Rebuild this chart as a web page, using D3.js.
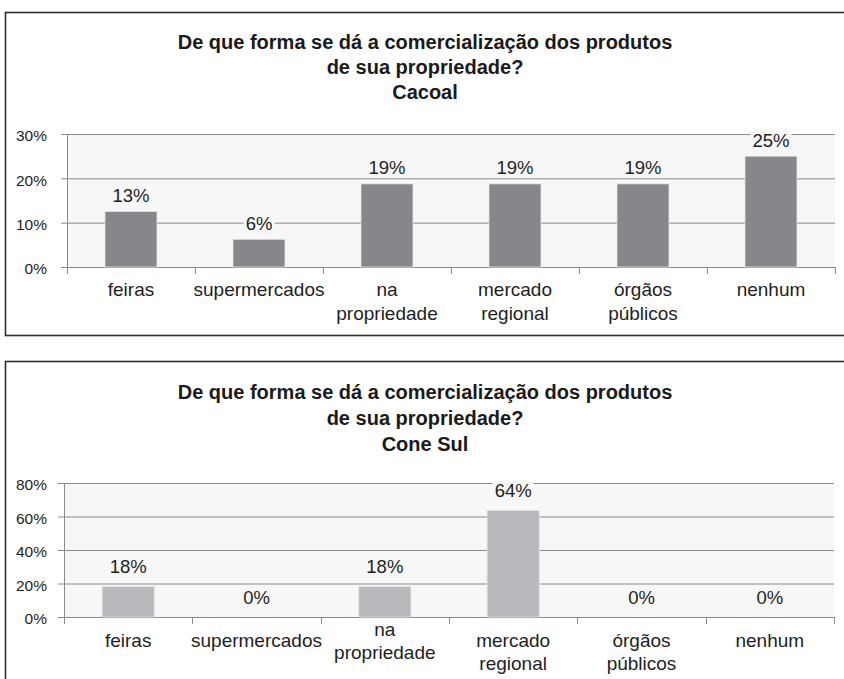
<!DOCTYPE html>
<html>
<head>
<meta charset="utf-8">
<script src="https://d3js.org/d3.v7.min.js"></script>
<style>
  body { margin: 0; background: #fff; }
  svg text { font-family: "Liberation Sans", Arial, sans-serif; fill: #1e1e1e; }
</style>
</head>
<body>
<script>
// categories and values (shares of respondents)
var categoryLines = [["feiras"], ["supermercados"], ["na", "propriedade"], ["mercado", "regional"], ["órgãos", "públicos"], ["nenhum"]];
var categories = categoryLines.map(function (d) { return d.join(" "); });
var titleLines = ["De que forma se dá a comercialização dos produtos", "de sua propriedade?"];

var cacoalValues = [0.125, 0.0625, 0.1875, 0.1875, 0.1875, 0.25];
var cacoalTicks = [0, 0.1, 0.2, 0.3];

var coneSulValues = [0.1818, 0, 0.1818, 0.6364, 0, 0];
var coneSulTicks = [0, 0.2, 0.4, 0.6, 0.8];

var svg = d3.select("body").append("svg")
  .attr("width", 844)
  .attr("height", 679);

var pct = d3.format(".0%");

function draw(cfg) {
  var g = svg.append("g");

  // outer frame
  g.append("rect")
    .attr("x", 5.5).attr("y", cfg.top + 0.5)
    .attr("width", 900).attr("height", cfg.boxH)
    .attr("fill", "none")
    .attr("stroke", "#2e2e2e")
    .attr("stroke-width", 1.6);

  // title
  titleLines.concat([cfg.name]).forEach(function (t, i) {
    g.append("text")
      .attr("x", 425)
      .attr("y", cfg.top + cfg.titleY + i * cfg.titleStep)
      .attr("text-anchor", "middle")
      .style("font-size", "20px")
      .style("font-weight", "bold")
      .style("fill", "#1a1a1a")
      .text(t);
  });

  var x = d3.scaleBand()
    .domain(categories)
    .range([cfg.x0, cfg.x1])
    .paddingInner(0.594)
    .paddingOuter(0.297);

  var y = d3.scaleLinear()
    .domain([0, cfg.ticks[cfg.ticks.length - 1]])
    .range([cfg.y0, cfg.y1]);

  // plot background
  g.append("rect")
    .attr("x", cfg.x0).attr("y", cfg.y1)
    .attr("width", cfg.x1 - cfg.x0).attr("height", cfg.y0 - cfg.y1)
    .attr("fill", "#f7f7f7");

  // gridlines
  g.append("g")
    .attr("transform", "translate(" + cfg.x0 + ",0)")
    .call(d3.axisLeft(y).tickValues(cfg.ticks).tickSize(-(cfg.x1 - cfg.x0)).tickFormat(""))
    .call(function (s) {
      s.select(".domain").remove();
      s.selectAll("line").attr("stroke", "#8a8a8a");
    });

  // y axis
  g.append("g")
    .attr("transform", "translate(" + cfg.x0 + ",0)")
    .call(d3.axisLeft(y).tickValues(cfg.ticks).tickSize(6).tickSizeOuter(0).tickPadding(cfg.tickPad).tickFormat(pct))
    .call(function (s) {
      s.select(".domain").remove();
      s.selectAll("line").attr("stroke", "#8a8a8a");
      s.selectAll("text")
        .attr("dy", "0.45em")
        .style("font-size", "15.5px")
        .style("font-family", "'Liberation Sans', Arial, sans-serif")
        .attr("fill", "#1e1e1e");
    });

  g.append("line")
    .attr("x1", cfg.x0 + 0.5).attr("x2", cfg.x0 + 0.5)
    .attr("y1", cfg.y1).attr("y2", cfg.y0 + 7)
    .attr("stroke", "#8a8a8a");

  // x axis line and category boundary ticks
  g.append("line")
    .attr("x1", cfg.x0).attr("x2", cfg.x1)
    .attr("y1", cfg.y0 + 0.5).attr("y2", cfg.y0 + 0.5)
    .attr("stroke", "#8a8a8a");

  g.selectAll(".xtick")
    .data(d3.range(categories.length + 1))
    .enter().append("line")
    .attr("x1", function (i) { return Math.round(cfg.x0 + i * x.step()) + 0.5; })
    .attr("x2", function (i) { return Math.round(cfg.x0 + i * x.step()) + 0.5; })
    .attr("y1", cfg.y0)
    .attr("y2", cfg.y0 + 7)
    .attr("stroke", "#8a8a8a");

  // bars
  g.selectAll(".bar")
    .data(cfg.values)
    .enter().append("rect")
    .attr("x", function (d, i) { return x(categories[i]); })
    .attr("width", x.bandwidth())
    .attr("y", function (d) { return y(d); })
    .attr("height", function (d) { return cfg.y0 - y(d); })
    .attr("fill", cfg.color)
    .attr("stroke", "#e4e4e4")
    .attr("stroke-width", 0.8);

  // value labels with background patch
  cfg.values.forEach(function (d, i) {
    var lg = g.append("g");
    var t = lg.append("text")
      .attr("x", x(categories[i]) + x.bandwidth() / 2)
      .attr("y", y(d) - cfg.labelGap)
      .attr("text-anchor", "middle")
      .style("font-size", "18.5px")
      .text(pct(d));
    var b = t.node().getBBox();
    lg.insert("rect", "text")
      .attr("x", b.x - 2).attr("y", b.y + 1)
      .attr("width", b.width + 4).attr("height", b.height - 2)
      .attr("fill", "#f7f7f7");
  });

  // category labels
  categoryLines.forEach(function (lines, i) {
    var shift = cfg.centerTwo && cfg.centerTwo.indexOf(i) >= 0 ? -cfg.catStep / 2 : 0;
    var t = g.append("text")
      .attr("x", x(categories[i]) + x.bandwidth() / 2)
      .attr("y", cfg.y0 + cfg.catY + shift)
      .attr("text-anchor", "middle")
      .style("font-size", "19px");
    lines.forEach(function (l, j) {
      t.append("tspan")
        .attr("x", x(categories[i]) + x.bandwidth() / 2)
        .attr("dy", j === 0 ? 0 : cfg.catStep)
        .text(l);
    });
  });
}

draw({
  name: "Cacoal", top: 12, boxH: 323,
  titleY: 37, titleStep: 25,
  x0: 67, x1: 835, y0: 267, y1: 134,
  ticks: cacoalTicks, values: cacoalValues,
  color: "#86878b", labelGap: 9.5, tickPad: 14,
  catY: 29, catStep: 23.5
});

draw({
  name: "Cone Sul", top: 361, boxH: 340,
  titleY: 38, titleStep: 26,
  x0: 64, x1: 834, y0: 617, y1: 483,
  ticks: coneSulTicks, values: coneSulValues,
  color: "#b8b9bc", labelGap: 13.5, tickPad: 11,
  catY: 30, catStep: 23, centerTwo: [2]
});
</script>
</body>
</html>
